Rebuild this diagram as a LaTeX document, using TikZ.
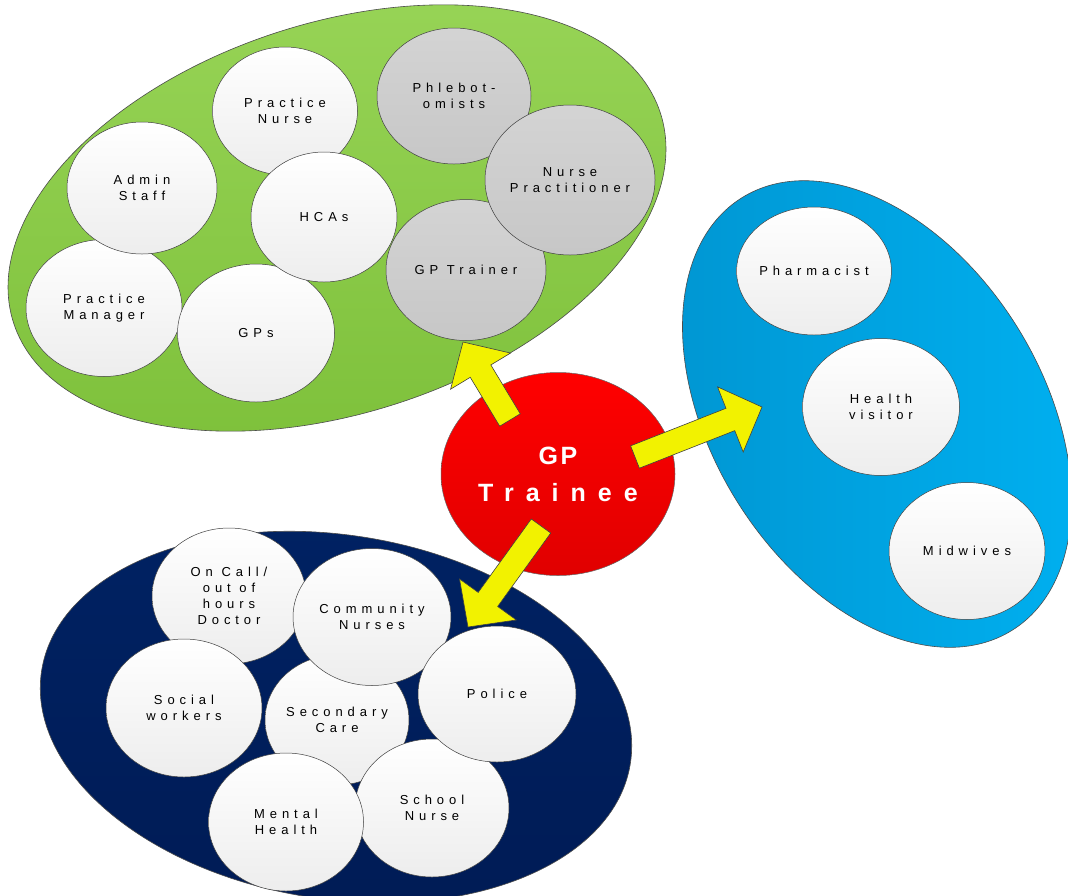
\documentclass[tikz,border=0pt]{standalone}
\usepackage{fontspec}
\setmainfont{Liberation Sans}
\newfontfamily\spacedsans[LetterSpace=38]{Liberation Sans}
\newfontfamily\trfont[LetterSpace=48]{Liberation Sans}
\newfontfamily\trplainfont[LetterSpace=10]{Liberation Sans}
\usetikzlibrary{shapes.geometric,calc}

\definecolor{grptop}{HTML}{96D355}
\definecolor{grpbot}{HTML}{7DC03A}
\definecolor{comtop}{HTML}{00B0F0}
\definecolor{combot}{HTML}{0096D2}
\definecolor{sectop}{HTML}{002263}
\definecolor{secbot}{HTML}{001B55}
\definecolor{arrowyel}{HTML}{F2F200}

\tikzset{every picture/.style={line width=0.75pt}}
\tikzset{
  bubble/.style={ellipse, draw=black!75, line width=0.5pt, top color=white, bottom color=black!7,
    align=center, inner sep=0pt, text=black, font=\spacedsans\fontsize{13}{16}\selectfont},
  greybubble/.style={bubble, top color=black!17, bottom color=black!22},
  trainee/.style={ellipse, draw=black!60, line width=0.5pt, top color=red, bottom color=red!88!black,
    align=center, inner sep=0pt, text=white, font=\trfont\bfseries\fontsize{25}{37}\selectfont},
  arrowbody/.style={draw=black!75, line width=0.6pt, fill=arrowyel, line join=miter},
}

% block arrow from tail #1 to tip #2
\newcommand{\blockarrow}[2]{%
  \coordinate (#1-base) at ($(#2)!34pt!(#1)$);
  \draw[arrowbody] ($(#1)!12pt!90:(#2)$) -- ($(#1-base)!12pt!90:(#2)$) -- ($(#1-base)!35pt!90:(#2)$)
    -- (#2) -- ($(#1-base)!35pt!-90:(#2)$) -- ($(#1-base)!12pt!-90:(#2)$) -- ($(#1)!12pt!-90:(#2)$) -- cycle;}

\begin{document}
\begin{tikzpicture}[x=1pt,y=1pt,yscale=-1]
	\useasboundingbox (0,0) rectangle (1068,895);

	% Draw group ellipses
	\draw [draw=black!70, line width=0.6pt, top color=grptop, bottom color=grpbot, rotate around={-18:(337,218)}] (337,218) ellipse [x radius=340, y radius=195];
	\draw [draw=black!70, line width=0.6pt, left color=combot, right color=comtop, rotate around={58:(877,414)}] (877,414) ellipse [x radius=255, y radius=165];
	\draw [draw=black!70, line width=0.6pt, top color=sectop, bottom color=secbot, rotate around={9:(336,717)}] (336,717) ellipse [x radius=298, y radius=182];

	% Practice team
	\node [bubble, minimum width=156, minimum height=137] (pmanager) at (104,308) {Practice\\Manager};
	\node [bubble, minimum width=150, minimum height=132] (admin) at (142,188) {Admin\\Staff};
	\node [bubble, minimum width=157, minimum height=138] (gps) at (256,333) {GPs};
	\node [bubble, minimum width=145, minimum height=128] (pnurse) at (285,111) {Practice\\Nurse};
	\node [bubble, minimum width=146, minimum height=130] (hcas) at (324,217) {HCAs};
	\node [greybubble, minimum width=154, minimum height=136] (phleb) at (454,96) {Phlebot-\\omists};
	\node [greybubble, minimum width=160, minimum height=141] (gptrainer) at (466,270) {GP Trainer};
	\node [greybubble, minimum width=170, minimum height=150] (nursepr) at (570,180) {Nurse\\Practitioner};

	% Community services
	\node [bubble, minimum width=145, minimum height=128] (pharm) at (814,271) {Pharmacist};
	\node [bubble, minimum width=157, minimum height=137] (hvisitor) at (881,407) {Health\\visitor};
	\node [bubble, minimum width=156, minimum height=137] (midwives) at (967,551) {Midwives};

	% Secondary and other services
	\node [bubble, minimum width=154, minimum height=136] (oncall) at (229,596) {On Call/\\out of\\hours\\Doctor};
	\node [bubble, minimum width=144, minimum height=130] (seccare) at (337,720) {Secondary\\Care};
	\node [bubble, minimum width=158, minimum height=137] (commnurse) at (372,617) {Community\\Nurses};
	\node [bubble, minimum width=156, minimum height=138] (social) at (184,708) {Social\\workers};
	\node [bubble, minimum width=154, minimum height=138] (schnurse) at (432,808) {School\\Nurse};
	\node [bubble, minimum width=158, minimum height=136] (police) at (497,694) {Police};
	\node [bubble, minimum width=155, minimum height=138] (mental) at (286,822) {Mental\\Health};

	% Centre
	\node [trainee, minimum width=234, minimum height=203] (gpt) at (558,474) {{\trplainfont GP}\\Trainee};

	% Draw block arrows
	\coordinate (tailP) at (510,420);
	\coordinate (tipP) at (463,342);
	\coordinate (tailC) at (635,457);
	\coordinate (tipC) at (762,407);
	\coordinate (tailS) at (541,526);
	\coordinate (tipS) at (468,627);
	\blockarrow{tailP}{tipP}
	\blockarrow{tailC}{tipC}
	\blockarrow{tailS}{tipS}
\end{tikzpicture}
\end{document}
